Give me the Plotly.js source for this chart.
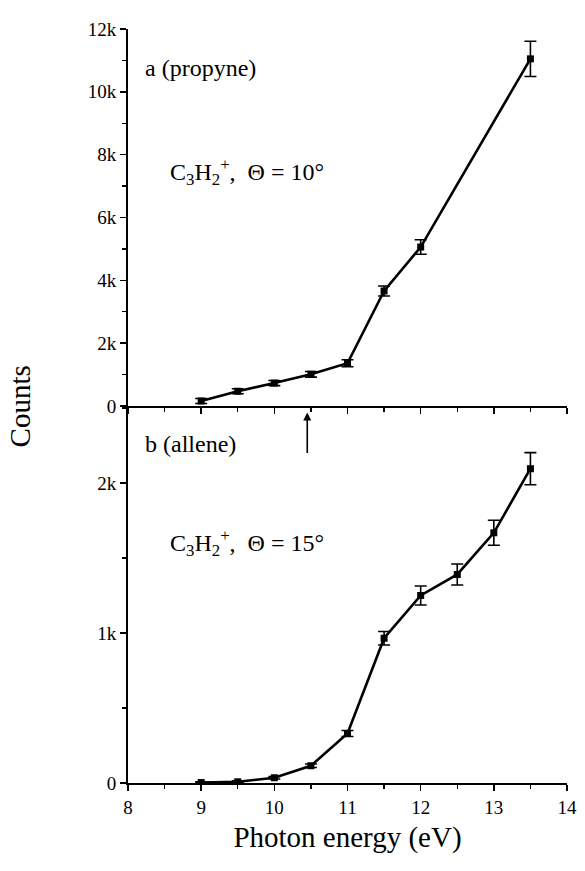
<!DOCTYPE html>
<html>
<head>
<meta charset="utf-8">
<script src="https://cdn.plot.ly/plotly-3.0.1.min.js"></script>
<style>
html,body{margin:0;padding:0;background:#fff;}
#plot{width:585px;height:871px;}
</style>
</head>
<body>
<div id="plot"></div>
<script>
// Panel a: propyne
const energyA = [9, 9.5, 10, 10.5, 11, 11.5, 12, 13.5];
const countsA = [160, 470, 730, 1010, 1360, 3660, 5060, 11050];
const errA    = [80, 80, 80, 90, 110, 160, 230, 560];
// Panel b: allene
const energyB = [9, 9.5, 10, 10.5, 11, 11.5, 12, 12.5, 13, 13.5];
const countsB = [3, 8, 35, 115, 330, 965, 1250, 1390, 1668, 2095];
const errB    = [5, 6, 8, 12, 20, 45, 63, 70, 83, 107];

const yTicksA = [0, 2000, 4000, 6000, 8000, 10000, 12000];
const yTextA  = ['0', '2k', '4k', '6k', '8k', '10k', '12k'];
const yTicksB = [0, 1000, 2000];
const yTextB  = ['0', '1k', '2k'];
const xTicks  = [8, 9, 10, 11, 12, 13, 14];

const serif = 'Liberation Serif';
const lineStyle = {color: '#000', width: 2.6};
const markerStyle = {symbol: 'square', size: 7, color: '#000'};
const errStyle = (arr) => ({type: 'data', array: arr, visible: true, color: '#000', thickness: 1.6, width: 6});

const traces = [
  {x: energyA, y: countsA, xaxis: 'x2', yaxis: 'y2', mode: 'lines+markers', line: lineStyle, marker: markerStyle, error_y: errStyle(errA), showlegend: false},
  {x: energyB, y: countsB, xaxis: 'x', yaxis: 'y', mode: 'lines+markers', line: lineStyle, marker: markerStyle, error_y: errStyle(errB), showlegend: false}
];

const tf = {family: serif, size: 19, color: '#000'};
const baseX = {
  range: [8, 14], tickvals: xTicks, showline: true, linecolor: '#000', linewidth: 2,
  zeroline: false, showgrid: false, ticklen: 6, tickwidth: 1.6, tickcolor: '#000',
  minor: {dtick: 0.5, ticks: 'outside', ticklen: 4, tickwidth: 1.4, tickcolor: '#000', showgrid: false},
  tickfont: tf
};
const baseY = {
  showline: true, linecolor: '#000', linewidth: 2, zeroline: false, showgrid: false,
  ticks: 'outside', ticklen: 6, tickwidth: 1.6, tickcolor: '#000',
  tickfont: tf
};

const layout = {
  width: 585, height: 871,
  margin: {l: 128, r: 18, t: 29, b: 88},
  paper_bgcolor: '#fff', plot_bgcolor: '#fff',
  font: {family: serif, size: 19, color: '#000'},
  showlegend: false,
  xaxis: Object.assign({}, baseX, {anchor: 'y', ticks: 'outside',
    title: {text: 'Photon energy (eV)', font: {family: serif, size: 29, color: '#000'}, standoff: 10}}),
  yaxis: Object.assign({}, baseY, {domain: [0, 0.5], anchor: 'x', range: [0, 2513],
    tickvals: yTicksB, ticktext: yTextB,
    minor: {dtick: 500, ticks: 'outside', ticklen: 4, tickwidth: 1.4, tickcolor: '#000', showgrid: false}}),
  xaxis2: Object.assign({}, baseX, {anchor: 'y2', ticks: 'outside', showticklabels: false}),
  yaxis2: Object.assign({}, baseY, {domain: [0.5, 1], anchor: 'x2', range: [0, 12000],
    tickvals: yTicksA, ticktext: yTextA,
    minor: {dtick: 1000, ticks: 'outside', ticklen: 4, tickwidth: 1.4, tickcolor: '#000', showgrid: false}}),
  xaxis3: Object.assign({}, baseX, {overlaying: 'x2', anchor: 'y2', side: 'top', ticks: 'inside', showticklabels: false,
    minor: {dtick: 0.5, ticks: 'inside', ticklen: 4, tickwidth: 1.4, tickcolor: '#000', showgrid: false}}),
  yaxis3: Object.assign({}, baseY, {overlaying: 'y2', anchor: 'x2', side: 'right', range: [0, 12000],
    tickvals: yTicksA, ticks: 'inside', showticklabels: false,
    minor: {dtick: 1000, ticks: 'inside', ticklen: 4, tickwidth: 1.4, tickcolor: '#000', showgrid: false}}),
  yaxis4: Object.assign({}, baseY, {overlaying: 'y', anchor: 'x', side: 'right', range: [0, 2513],
    tickvals: yTicksB, ticks: 'inside', showticklabels: false,
    minor: {dtick: 500, ticks: 'inside', ticklen: 4, tickwidth: 1.4, tickcolor: '#000', showgrid: false}}),
  annotations: [
    {xref: 'paper', yref: 'paper', x: -0.245, y: 0.5, text: 'Counts', textangle: -90, showarrow: false,
     font: {family: serif, size: 29, color: '#000'}, xanchor: 'center', yanchor: 'middle'},
    {xref: 'x2', yref: 'y2', x: 8.2, y: 10750, text: 'a (propyne)', showarrow: false, xanchor: 'left', yanchor: 'middle',
     font: {family: serif, size: 24, color: '#000'}},
    {xref: 'x2', yref: 'y2', x: 8.55, y: 7450, text: 'C<sub>3</sub>H<sub>2</sub><sup>+</sup>,  Θ = 10°', showarrow: false,
     xanchor: 'left', yanchor: 'middle', font: {family: serif, size: 24, color: '#000'}},
    {xref: 'x', yref: 'y', x: 8.2, y: 2260, text: 'b (allene)', showarrow: false, xanchor: 'left', yanchor: 'middle',
     font: {family: serif, size: 24, color: '#000'}},
    {xref: 'x', yref: 'y', x: 8.55, y: 1600, text: 'C<sub>3</sub>H<sub>2</sub><sup>+</sup>,  Θ = 15°', showarrow: false,
     xanchor: 'left', yanchor: 'middle', font: {family: serif, size: 24, color: '#000'}},
    {xref: 'x', yref: 'y', x: 10.45, y: 2470, ax: 0, ay: 42, axref: 'pixel', ayref: 'pixel', text: '', showarrow: true,
     arrowhead: 2, arrowsize: 1, arrowwidth: 1.6, arrowcolor: '#000'}
  ]
};

Plotly.newPlot('plot', traces, layout, {staticPlot: true, displayModeBar: false});
</script>
</body>
</html>
